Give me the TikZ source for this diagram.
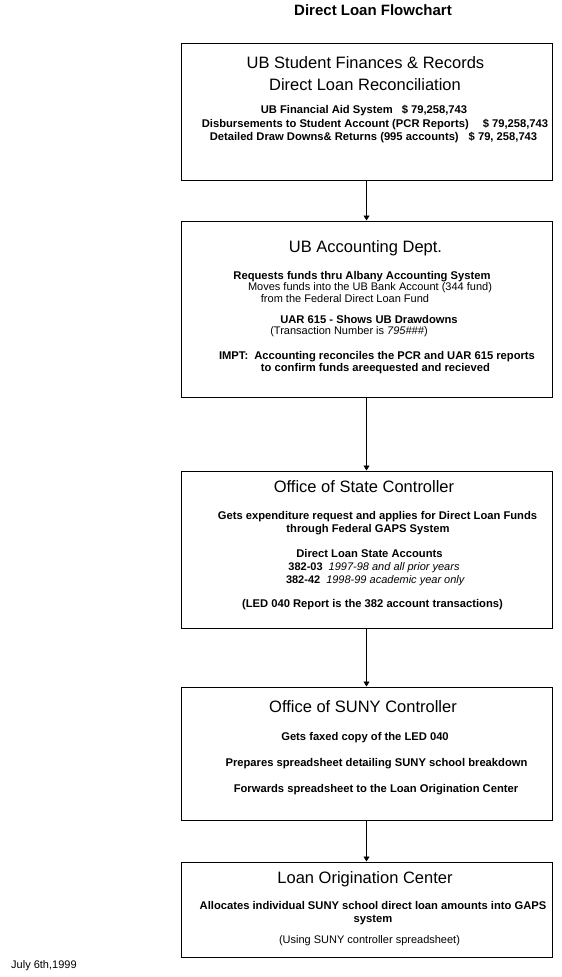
\documentclass[tikz,border=0pt]{standalone}
\usepackage{fontspec}
\setmainfont{Liberation Sans}
\usetikzlibrary{arrows.meta}
\tikzset{
  box/.style={draw, line width=1pt, inner sep=0pt, minimum width=371pt},
  arr/.style={line width=0.9pt, -{Triangle[width=6pt,length=5pt]}},
  ttl/.style={font=\fontsize{15}{17}\selectfont\bfseries, anchor=base, inner sep=0pt},
  head/.style={font=\fontsize{16.5}{19}\selectfont, anchor=base, inner sep=0pt},
  bodyb/.style={font=\fontsize{11.2}{13}\selectfont\bfseries, anchor=base, inner sep=0pt},
  body/.style={font=\fontsize{11}{13}\selectfont, anchor=base, inner sep=0pt},
}
\begin{document}
\begin{tikzpicture}[x=1pt,y=-1pt]
\useasboundingbox (0,0) rectangle (562,977);
\fill[white] (0,0) rectangle (562,977);

\node[ttl] (title) at (373,15) {Direct Loan Flowchart};

% boxes
\node[box, minimum height=137pt] (b1) at (366.5,112) {};
\node[box, minimum height=176pt] (b2) at (366.5,309) {};
\node[box, minimum height=157pt] (b3) at (366.5,549.5) {};
\node[box, minimum height=133pt] (b4) at (366.5,753.5) {};
\node[box, minimum height=95pt]  (b5) at (366.5,909.5) {};

% connectors
\draw[arr] (b1.south) -- (b2.north);
\draw[arr] (b2.south) -- (b3.north);
\draw[arr] (b3.south) -- (b4.north);
\draw[arr] (b4.south) -- (b5.north);

% box 1
\node[head] (t1a) at (365.5,68) {UB Student Finances \& Records};
\node[head] (t1b) at (365,90) {Direct Loan Reconciliation};
\node[bodyb] (t1c) at (364,113) {UB Financial Aid System\hspace{9pt}\$ 79,258,743};
\node[bodyb] (t1d) at (375,127) {Disbursements to Student Account (PCR Reports)\hspace{14pt}\$ 79,258,743};
\node[bodyb] (t1e) at (373.5,140) {Detailed Draw Downs\& Returns (995 accounts)\hspace{10pt}\$ 79, 258,743};

% box 2
\node[head] (t2a) at (365.5,252) {UB Accounting Dept.};
\node[bodyb] (t2b) at (362,279) {Requests funds thru Albany Accounting System};
\node[body] (t2c) at (370,290.5) {Moves funds into the UB Bank Account (344 fund)};
\node[body] (t2d) at (345,302) {from the Federal Direct Loan Fund};
\node[bodyb] (t2e) at (369,323) {UAR 615 - Shows UB Drawdowns};
\node[body] (t2f) at (349,334) {(Transaction Number is \textit{795\#\#\#})};
\node[bodyb] (t2g) at (377,359) {IMPT:\hspace{6pt}Accounting reconciles the PCR and UAR 615 reports};
\node[bodyb] (t2h) at (375.5,371) {to confirm funds areequested and recieved};

% box 3
\node[head] (t3a) at (364,492) {Office of State Controller};
\node[bodyb] (t3b) at (377.5,519) {Gets expenditure request and applies for Direct Loan Funds};
\node[bodyb] (t3c) at (368,532) {through Federal GAPS System};
\node[bodyb] (t3d) at (369.5,557) {Direct Loan State Accounts};
\node[body] (t3e) at (374,570) {\textbf{382-03}\hspace{6pt}\textit{1997-98 and all prior years}};
\node[body] (t3f) at (375.5,583) {\textbf{382-42}\hspace{6pt}\textit{1998-99 academic year only}};
\node[bodyb] (t3g) at (372.5,607) {(LED 040 Report is the 382 account transactions)};

% box 4
\node[head] (t4a) at (363,712) {Office of SUNY Controller};
\node[bodyb] (t4b) at (365,740) {Gets faxed copy of the LED 040};
\node[bodyb] (t4c) at (376.5,766) {Prepares spreadsheet detailing SUNY school breakdown};
\node[bodyb] (t4d) at (376,792) {Forwards spreadsheet to the Loan Origination Center};

% box 5
\node[head] (t5a) at (365,883) {Loan Origination Center};
\node[bodyb] (t5b) at (373,909) {Allocates individual SUNY school direct loan amounts into GAPS};
\node[bodyb] (t5c) at (373,922) {system};
\node[body] (t5d) at (369.5,943) {(Using SUNY controller spreadsheet)};

% date
\node[body, anchor=base west] (date) at (11,968) {July 6th,1999};
\end{tikzpicture}
\end{document}
